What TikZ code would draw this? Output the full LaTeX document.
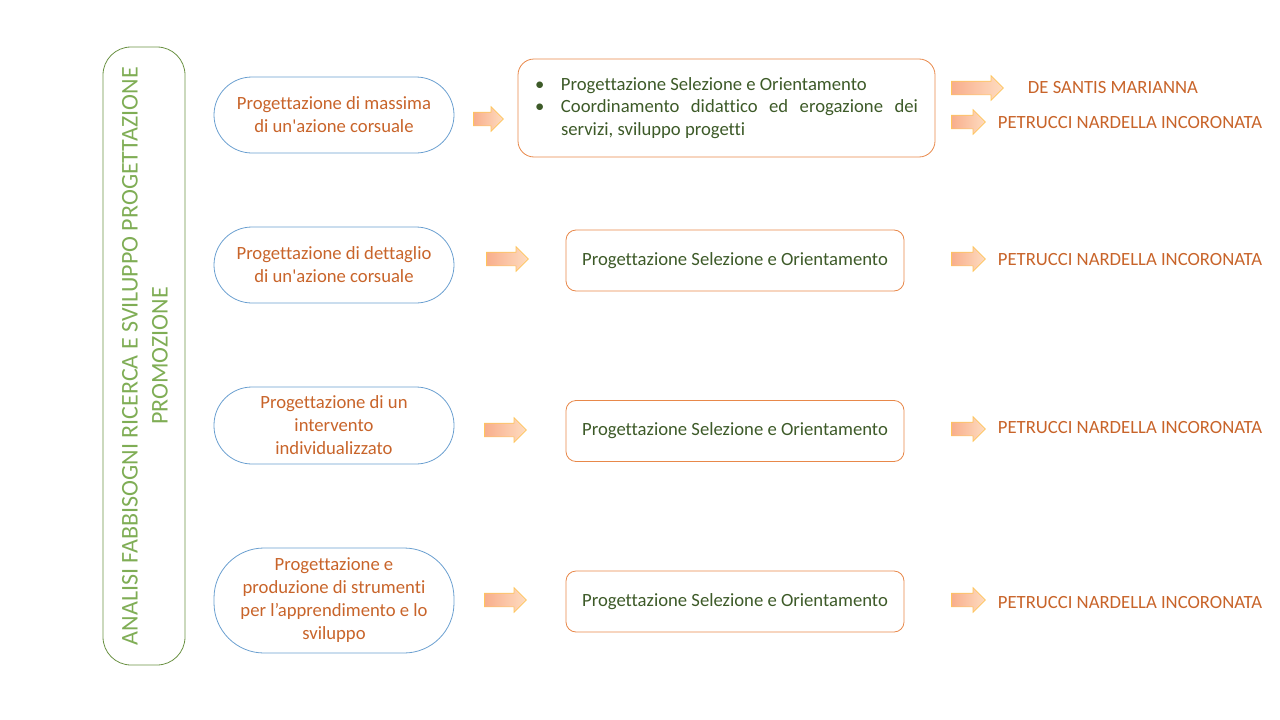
\documentclass[tikz,border=0pt]{standalone}
\usepackage{fontspec}
\setmainfont{Carlito}[Ligatures={TeXOff,NoCommon}]
\usetikzlibrary{shapes.arrows}
\definecolor{gborder}{HTML}{6B9244}
\definecolor{gtext}{HTML}{7FAD55}
\definecolor{bborder}{HTML}{6A9FD0}
\definecolor{otext}{HTML}{C8642A}
\definecolor{oborder}{HTML}{E8884A}
\definecolor{dgtext}{HTML}{3D5A28}
\definecolor{arrL}{HTML}{F8AE8C}
\definecolor{arrR}{HTML}{FEDCC0}
\definecolor{arrD}{HTML}{FFC55A}
\tikzset{
  stadium/.style={draw=bborder, line width=0.8pt, minimum width=240pt, text=otext, align=center,
    font=\fontsize{18.67}{23}\selectfont, inner sep=0pt},
  taskbox/.style={draw=oborder, line width=0.8pt, rounded corners=10pt, text=dgtext,
    font=\fontsize{18.67}{22.5}\selectfont, inner sep=0pt, minimum width=338pt, minimum height=61pt},
  blockarrow/.style={single arrow, draw=arrD, line width=0.7pt, left color=arrL, right color=arrR,
    inner xsep=0pt, inner ysep=6.5pt, single arrow head extend=5.5pt, minimum width=24pt},
  namelabel/.style={text=otext, font=\fontsize{18.67}{22}\selectfont, inner sep=0pt}
}
\begin{document}
\begin{tikzpicture}[x=1pt, y=-1pt]
\useasboundingbox (0,0) rectangle (1280,720);

% left vertical box
\node[draw=gborder, line width=0.8pt, rounded corners=28pt, minimum width=82pt, minimum height=618pt, inner sep=0pt] (side) at (144,356) {};
\node[rotate=90, text=gtext, align=center, font=\fontsize{24}{30}\selectfont] (sidetext) at (145,356)
  {ANALISI FABBISOGNI RICERCA E SVILUPPO PROGETTAZIONE\\PROMOZIONE};

% stadiums
\node[stadium, minimum height=76pt, rounded corners=38pt] (s1) at (334,115) {Progettazione di massima\\di un'azione corsuale};
\node[stadium, minimum height=76pt, rounded corners=38pt] (s2) at (334,265) {Progettazione di dettaglio\\di un'azione corsuale};
\node[stadium, minimum height=77pt, rounded corners=38pt] (s3) at (334,425.5) {Progettazione di un\\intervento\\individualizzato};
\node[stadium, minimum height=105pt, rounded corners=50pt] (s4) at (334,600.5) {Progettazione e\\produzione di strumenti\\per l’apprendimento e lo\\sviluppo};

% middle arrows
\node[blockarrow, minimum height=30pt] (a1) at (485,119) {};
\node[blockarrow, minimum height=42pt] (a2) at (504,259) {};
\node[blockarrow, minimum height=42pt] (a3) at (502,430) {};
\node[blockarrow, minimum height=42pt] (a4) at (502,600) {};

% task boxes
\node[taskbox, minimum width=417pt, minimum height=98pt, rounded corners=16pt] (b1) at (726.5,108) {%
  \begin{minipage}{383pt}\setlength{\parindent}{0pt}\leftskip=26pt
  \leavevmode\llap{\makebox[26pt][l]{\textbullet}}Progettazione Selezione e Orientamento\par
  \leavevmode\llap{\makebox[26pt][l]{\textbullet}}Coordinamento didattico ed erogazione dei servizi, sviluppo progetti\par
  \end{minipage}};
\node[taskbox] (b2) at (735,260.5) {Progettazione Selezione e Orientamento};
\node[taskbox] (b3) at (735,431) {Progettazione Selezione e Orientamento};
\node[taskbox] (b4) at (735,601.5) {Progettazione Selezione e Orientamento};

% right arrows
\node[blockarrow, minimum height=52pt] (r1a) at (974,88) {};
\node[blockarrow, minimum height=34pt] (r1b) at (965,122) {};
\node[blockarrow, minimum height=34pt] (r2) at (965,259) {};
\node[blockarrow, minimum height=34pt] (r3) at (965,429) {};
\node[blockarrow, minimum height=34pt] (r4) at (965,600) {};

% names
\node[namelabel] (n1a) at (1113,88) {DE SANTIS MARIANNA};
\node[namelabel] (n1b) at (1130,123) {PETRUCCI NARDELLA INCORONATA};
\node[namelabel] (n2) at (1130,260) {PETRUCCI NARDELLA INCORONATA};
\node[namelabel] (n3) at (1130,428) {PETRUCCI NARDELLA INCORONATA};
\node[namelabel] (n4) at (1130,603) {PETRUCCI NARDELLA INCORONATA};
\end{tikzpicture}
\end{document}
